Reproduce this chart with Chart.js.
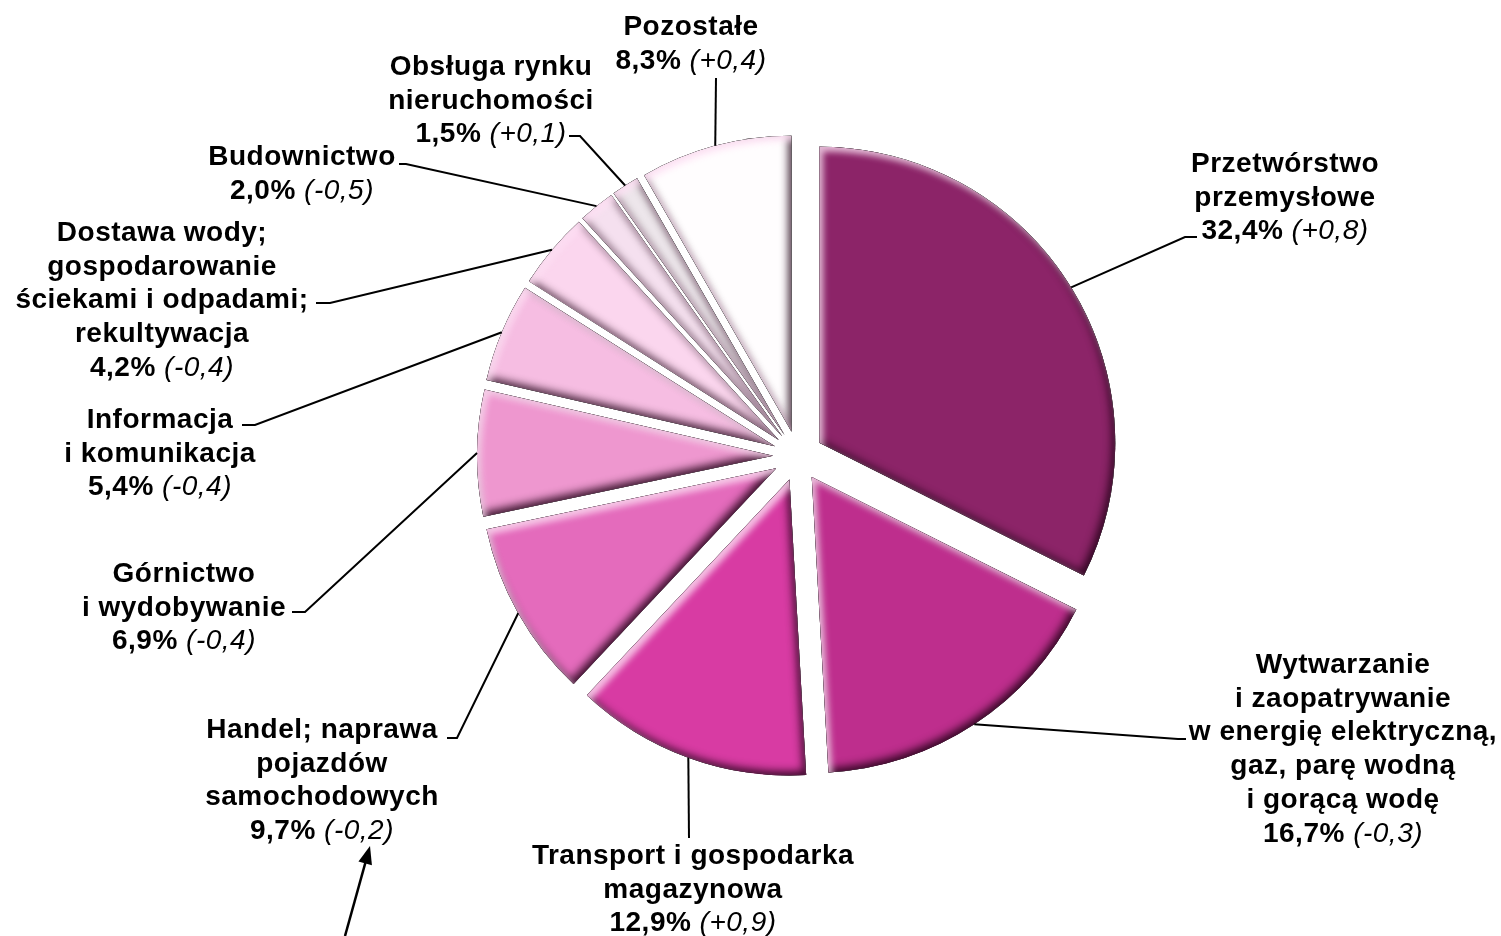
<!DOCTYPE html>
<html>
<head>
<meta charset="utf-8">
<script src="https://cdn.jsdelivr.net/npm/chart.js@4"></script>
<style>
  html, body { margin: 0; padding: 0; background: #fff; }
</style>
</head>
<body>
<canvas id="chart" width="1501" height="936"></canvas>
<script>
const ctx = document.getElementById("chart");

// data
const sectors = [
  "Przetwórstwo przemysłowe",
  "Wytwarzanie i zaopatrywanie w energię elektryczną, gaz, parę wodną i gorącą wodę",
  "Transport i gospodarka magazynowa",
  "Handel; naprawa pojazdów samochodowych",
  "Górnictwo i wydobywanie",
  "Informacja i komunikacja",
  "Dostawa wody; gospodarowanie ściekami i odpadami; rekultywacja",
  "Budownictwo",
  "Obsługa rynku nieruchomości",
  "Pozostałe",
];
const shares = [32.4, 16.7, 12.9, 9.7, 6.9, 5.4, 4.2, 2.0, 1.5, 8.3];
const changes = [0.8, -0.3, 0.9, -0.2, -0.4, -0.4, -0.4, -0.5, 0.1, 0.4];
const labelLines = [
  ["Przetwórstwo", "przemysłowe"],
  ["Wytwarzanie", "i zaopatrywanie", "w energię elektryczną,", "gaz, parę wodną", "i gorącą wodę"],
  ["Transport i gospodarka", "magazynowa"],
  ["Handel; naprawa", "pojazdów", "samochodowych"],
  ["Górnictwo", "i wydobywanie"],
  ["Informacja", "i komunikacja"],
  ["Dostawa wody;", "gospodarowanie", "ściekami i odpadami;", "rekultywacja"],
  ["Budownictwo"],
  ["Obsługa rynku", "nieruchomości"],
  ["Pozostałe"],
];

// styles / layout
const colors = ["#8c2468", "#be2e8d", "#d83ba3", "#e46bbc", "#ee97cf", "#f6bde2", "#fbd6ee", "#f5e0ef", "#ede6eb", "#fffdfe"];
// label centre x, first baseline y
const labelPos = [[1285, 172], [1343, 673], [693, 864], [322, 738], [184, 582], [160, 428], [162, 241], [302, 165], [491, 75], [691, 35]];
// leader line: elbow x,y then tail x,y
const leaders = [
  [1185, 237, 1197, 237],
  [1178, 739, 1186, 739],
  [689, 838, 689, 838],
  [457, 738, 447, 738],
  [305, 612, 292, 612],
  [255, 425, 242, 425],
  [330, 303, 316, 303],
  [406, 164, 399, 164],
  [580, 136, 569, 136],
  [716, 78, 716, 78],
];
const EXPLODE = 25;
const LINE_H = 33.7;

const fmtShare = (v) => v.toFixed(1).replace(".", ",") + "%";
const fmtChange = (v) => "(" + (v > 0 ? "+" : "") + v.toFixed(1).replace(".", ",") + ")";

// push every slice out along its bisector (equal radius for all slices)
const explode = {
  id: "explode",
  afterDatasetsUpdate(chart) {
    chart.getDatasetMeta(0).data.forEach((arc) => {
      const mid = (arc.startAngle + arc.endAngle) / 2;
      arc.x += Math.cos(mid) * EXPLODE;
      arc.y += Math.sin(mid) * EXPLODE;
    });
  },
};

// soft bevel: dark inner shadow bottom-right, light one top-left
const bevel = {
  id: "bevel",
  afterDatasetsDraw(chart) {
    const c = chart.ctx;
    chart.getDatasetMeta(0).data.forEach((arc) => {
      const wedge = () => {
        c.moveTo(arc.x, arc.y);
        c.arc(arc.x, arc.y, arc.outerRadius, arc.startAngle, arc.endAngle);
        c.closePath();
      };
      c.save();
      c.beginPath();
      wedge();
      c.clip();
      c.beginPath();
      c.rect(-3000, -3000, 9000, 9000);
      wedge();
      c.fillStyle = "#000";
      c.shadowColor = "rgba(30,0,20,0.85)";
      c.shadowBlur = 8;
      c.shadowOffsetX = -3;
      c.shadowOffsetY = -4;
      c.fill("evenodd");
      c.shadowColor = "rgba(255,225,245,0.8)";
      c.shadowBlur = 6;
      c.shadowOffsetX = 4;
      c.shadowOffsetY = 5;
      c.fill("evenodd");
      c.restore();
    });
  },
};

const labels = {
  id: "labels",
  afterDraw(chart) {
    const c = chart.ctx;
    const bold = 'bold 28px "Liberation Sans", Arial, sans-serif';
    const ital = 'italic 28px "Liberation Sans", Arial, sans-serif';
    c.save();
    c.letterSpacing = "0.5px";
    c.fillStyle = "#000";
    c.strokeStyle = "#000";
    c.lineWidth = 2;
    chart.getDatasetMeta(0).data.forEach((arc, i) => {
      const mid = (arc.startAngle + arc.endAngle) / 2;
      const ax = arc.x + Math.cos(mid) * arc.outerRadius;
      const ay = arc.y + Math.sin(mid) * arc.outerRadius;
      const [ex, ey, tx, ty] = leaders[i];
      c.beginPath();
      c.moveTo(ax, ay);
      c.lineTo(ex, ey);
      c.lineTo(tx, ty);
      c.stroke();

      const [cx, y0] = labelPos[i];
      c.font = bold;
      c.textAlign = "center";
      c.textBaseline = "alphabetic";
      labelLines[i].forEach((t, k) => c.fillText(t, cx, y0 + k * LINE_H));
      const y = y0 + labelLines[i].length * LINE_H;
      const a = fmtShare(shares[i]) + " ";
      const b = fmtChange(changes[i]);
      const wa = c.measureText(a).width;
      c.font = ital;
      const wb = c.measureText(b).width;
      c.textAlign = "left";
      c.font = bold;
      c.fillText(a, cx - (wa + wb) / 2, y);
      c.font = ital;
      c.fillText(b, cx - (wa + wb) / 2 + wa, y);
    });

    // arrow pointing at the trade label
    const x1 = 345, y1 = 936, x2 = 370, y2 = 846;
    const ang = Math.atan2(y2 - y1, x2 - x1);
    c.lineWidth = 2.5;
    c.beginPath();
    c.moveTo(x1, y1);
    c.lineTo(x2 - Math.cos(ang) * 12, y2 - Math.sin(ang) * 12);
    c.stroke();
    c.beginPath();
    c.moveTo(x2, y2);
    c.lineTo(x2 - Math.cos(ang) * 18 + Math.sin(ang) * 7, y2 - Math.sin(ang) * 18 - Math.cos(ang) * 7);
    c.lineTo(x2 - Math.cos(ang) * 18 - Math.sin(ang) * 7, y2 - Math.sin(ang) * 18 + Math.cos(ang) * 7);
    c.closePath();
    c.fill();
    c.restore();
  },
};

new Chart(ctx, {
  type: "pie",
  data: {
    labels: sectors,
    datasets: [
      {
        data: shares,
        backgroundColor: colors,
        borderWidth: 0,
      },
    ],
  },
  options: {
    responsive: false,
    animation: false,
    events: [],
    radius: 296,
    layout: { padding: { left: 95, right: 0, top: 0, bottom: 24 } },
    plugins: {
      legend: { display: false },
      tooltip: { enabled: false },
    },
  },
  plugins: [explode, bevel, labels],
});
</script>
</body>
</html>
